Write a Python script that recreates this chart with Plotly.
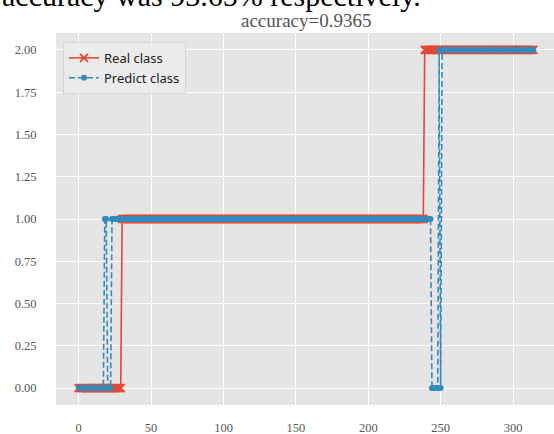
import numpy as np
import plotly.graph_objects as go

# Class sequences, stored run-length encoded: (class level, consecutive samples)
real_levels = [0, 1, 2]
real_counts = [30, 209, 76]
pred_levels = [0, 1, 0, 1, 0, 2, 0, 2]
pred_counts = [18, 2, 3, 221, 5, 1, 1, 64]

x_tick_vals = [0, 50, 100, 150, 200, 250, 300]
y_tick_vals = [0.0, 0.25, 0.5, 0.75, 1.0, 1.25, 1.5, 1.75, 2.0]
y_tick_text = ["0.00", "0.25", "0.50", "0.75", "1.00", "1.25", "1.50", "1.75", "2.00"]

real = np.repeat(real_levels, real_counts)
pred = np.repeat(pred_levels, pred_counts)
sample = np.arange(len(real))
accuracy = float(np.mean(real == pred))

RED = "#E24A33"
BLUE = "#348ABD"

fig = go.Figure()
fig.add_trace(go.Scatter(
    x=sample, y=real, mode="lines+markers", name="Real class",
    line=dict(color=RED, width=1.6),
    marker=dict(symbol="x-thin", size=8, line=dict(color=RED, width=1.8)),
))
fig.add_trace(go.Scatter(
    x=sample, y=pred, mode="lines+markers", name="Predict class",
    line=dict(color=BLUE, width=1.6, dash="6px,3px"),
    marker=dict(symbol="circle", size=6, color=BLUE),
))

tick_font = dict(family="Liberation Serif", size=12.5, color="#555555")

fig.update_layout(
    width=554, height=434,
    margin=dict(l=56, r=0, t=33, b=29),
    paper_bgcolor="white",
    plot_bgcolor="#E5E5E5",
    showlegend=True,
    legend=dict(
        x=0.014, y=0.976, xanchor="left", yanchor="top",
        bgcolor="rgba(236,236,236,0.85)", bordercolor="#D4D4D4", borderwidth=1,
        font=dict(family="Noto Sans", size=13, color="#222222"),
        itemwidth=30,
    ),
    xaxis=dict(
        range=[-15.7, 328.3], tickvals=x_tick_vals,
        showgrid=True, gridcolor="white", gridwidth=1, zeroline=False,
        showline=False, ticks="outside", ticklen=11, tickcolor="rgba(0,0,0,0)",
        tickfont=tick_font,
    ),
    yaxis=dict(
        range=[-0.1, 2.1], tickvals=y_tick_vals, ticktext=y_tick_text,
        showgrid=True, gridcolor="white", gridwidth=1, zeroline=False,
        showline=False, ticks="outside", ticklen=16, tickcolor="rgba(0,0,0,0)",
        tickfont=tick_font,
    ),
    annotations=[
        dict(
            text="accuracy was 93.65% respectively.",
            xref="paper", yref="paper", x=-0.112, y=1.102,
            xanchor="left", yanchor="middle", showarrow=False,
            font=dict(family="Liberation Serif", size=30, color="black"),
        ),
        dict(
            text=f"accuracy={accuracy:.4f}",
            xref="paper", yref="paper", x=0.502, y=1.034,
            xanchor="center", yanchor="middle", showarrow=False,
            font=dict(family="Liberation Serif", size=19, color="#555555"),
        ),
    ],
)

fig.write_html("out.html")
